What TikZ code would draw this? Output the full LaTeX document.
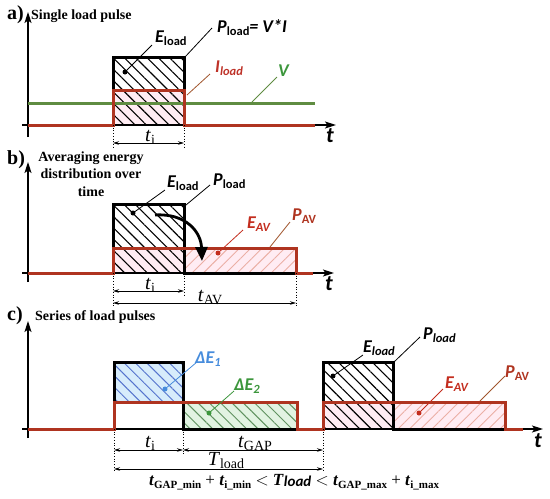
\documentclass[tikz,border=0pt]{standalone}
\usepackage{fontspec}
\setmainfont{Liberation Serif}
\newfontfamily\calfont{Carlito}
\usetikzlibrary{patterns.meta,arrows.meta}
\definecolor{redl}{RGB}{175,52,32}
\definecolor{greenl}{RGB}{95,140,65}
\definecolor{pinkf}{RGB}{255,236,243}
\definecolor{salmon}{RGB}{235,175,165}
\definecolor{bluef}{RGB}{215,236,251}
\definecolor{blueh}{RGB}{85,115,205}
\definecolor{bluet}{RGB}{70,140,220}
\definecolor{greenf}{RGB}{226,243,226}
\definecolor{greenh}{RGB}{95,145,95}
\definecolor{greent}{RGB}{60,150,60}
\definecolor{ilab}{RGB}{190,50,40}
\definecolor{brownl}{RGB}{160,85,45}
\definecolor{eav}{RGB}{195,45,30}
\newcommand\lsub[1]{\raisebox{-0.22em}{\fontsize{12.5}{12.5}\selectfont #1}}
\newcommand\tsub[1]{\raisebox{-0.18em}{\fontsize{14}{14}\selectfont #1}}
\newcommand\fsub[1]{\raisebox{-0.2em}{\fontsize{11}{11}\selectfont\bfseries #1}}
\begin{document}
\begin{tikzpicture}[x=1pt,y=-1pt,
 axisarrow/.style={line width=1.3pt,-{Stealth[length=11pt,width=7pt,inset=2.5pt]}},
 blk/.style={line width=3pt,black,line join=miter},
 redsig/.style={line width=3pt,redl,line join=miter},
 grn/.style={line width=3pt,greenl},
 lead/.style={line width=0.8pt},
 dotl/.style={line width=0.7pt,dotted},
 dimarrow/.style={line width=0.8pt,{Stealth[length=6pt,width=3.5pt]}-{Stealth[length=6pt,width=3.5pt]}},
 lbl/.style={font=\calfont\bfseries\itshape\fontsize{18}{18}\selectfont,inner sep=0pt,anchor=base west},
 tlbl/.style={font=\fontsize{20}{20}\selectfont,inner sep=0pt,anchor=base},
 title/.style={font=\bfseries\fontsize{14}{14}\selectfont,inner sep=0pt},
 plabel/.style={font=\bfseries\fontsize{20}{20}\selectfont,inner sep=0pt,anchor=base west},
 taxis/.style={font=\calfont\bfseries\itshape\fontsize{22}{22}\selectfont,inner sep=0pt,anchor=base west},
 dotm/.style={circle,fill,inner sep=0pt,minimum size=5pt},
 blackhatch/.style={pattern={Lines[angle=-45,distance=8pt,line width=1.1pt]},pattern color=black},
 salmonhatch/.style={pattern={Lines[angle=45,distance=8pt,line width=0.9pt]},pattern color=salmon},
 bluehatch/.style={pattern={Lines[angle=-45,distance=8pt,line width=1pt]},pattern color=blueh},
 greenhatch/.style={pattern={Lines[angle=-45,distance=8pt,line width=1pt]},pattern color=greenh},
]
\useasboundingbox (0,0) rectangle (550,499);

%================ panel a =================
\node[plabel] (pa) at (7,19) {a)};
\node[title,anchor=base west] (ta) at (31,19) {Single load pulse};
\fill[pinkf] (113,90) rectangle (184,125);
\path[blackhatch] (113,57) rectangle (184,125);
\coordinate (ay0) at (28,137); \coordinate (ay1) at (28,12);
\coordinate (ax0) at (22,125); \coordinate (ax1) at (336,125);
\draw[axisarrow] (ay0) -- (ay1);
\draw[axisarrow] (ax0) -- (ax1);
\node[taxis] (tta) at (326,142) {t};
\draw[grn] (28,103) -- (315,103);
\draw[blk] (113,125) -- (113,57) -- (184,57) -- (184,125);
\draw[redsig] (28,125) -- (113,125) -- (113,90) -- (184,90) -- (184,125) -- (315,125);
% dimension
\coordinate (a1t) at (113,125); \coordinate (a1b) at (113,148);
\coordinate (a2t) at (184,125); \coordinate (a2b) at (184,148);
\draw[dotl] (a1t) -- (a1b); \draw[dotl] (a2t) -- (a2b);
\coordinate (ad1) at (113,143); \coordinate (ad2) at (184,143);
\draw[dimarrow] (ad1) -- (ad2);
\node[tlbl] (tia) at (150,141) {\textit{t}\tsub{i}};
% labels
\node[lbl] (Ea) at (155,42) {E\lsub{\upshape load}};
\node[dotm] (Ead) at (125,72) {};
\coordinate (Eae) at (152,45);
\draw[lead] (Ead.center) -- (Eae);
\node[lbl] (Pa) at (217,32) {P\lsub{\upshape load}= V*I};
\coordinate (Pas) at (185,57); \coordinate (Pae) at (212,28);
\draw[lead] (Pas) -- (Pae);
\node[lbl,text=ilab] (Ia) at (215,72) {I\lsub{load}};
\coordinate (Ias) at (187,95); \coordinate (Iae) at (210,74);
\draw[lead,brownl] (Ias) -- (Iae);
\node[lbl,text=greent] (Va) at (278,76) {V};
\coordinate (Vas) at (252,102); \coordinate (Vae) at (277,77);
\draw[lead,greenl] (Vas) -- (Vae);

%================ panel b =================
\node[plabel] (pb) at (7,164) {b)};
\node[title,anchor=base] (tb1) at (91,161) {Averaging energy};
\node[title,anchor=base] (tb2) at (91,178.5) {distribution over};
\node[title,anchor=base] (tb3) at (91,196) {time};
\fill[pinkf] (113,248) rectangle (296,273);
\path[blackhatch] (113,204) rectangle (184,273);
\path[salmonhatch] (184,248) rectangle (296,273);
\coordinate (by0) at (28,282); \coordinate (by1) at (28,162);
\coordinate (bx0) at (22,273); \coordinate (bx1) at (334,273);
\draw[axisarrow] (by0) -- (by1);
\draw[axisarrow] (bx0) -- (bx1);
\node[taxis] (ttb) at (325,290) {t};
\draw[blk] (113,273) -- (113,204) -- (184,204) -- (184,273) -- (296,273);
\draw[redsig] (28,273) -- (113,273) -- (113,248) -- (296,248) -- (296,273) -- (313,273);
% curved arrow
\coordinate (cas) at (155,215); \coordinate (cae) at (202,261);
\draw[line width=2.8pt,-{Triangle[length=14pt,width=12pt]}] (cas) .. controls (186,213) and (201,232) .. (cae);
% dimensions
\coordinate (b1t) at (113,273); \coordinate (b1b) at (113,306);
\coordinate (b2t) at (184,273); \coordinate (b2b) at (184,295);
\coordinate (b3t) at (296,273); \coordinate (b3b) at (296,306);
\draw[dotl] (b1t) -- (b1b); \draw[dotl] (b2t) -- (b2b); \draw[dotl] (b3t) -- (b3b);
\coordinate (bd1) at (113,291); \coordinate (bd2) at (184,291);
\coordinate (bd3) at (113,303); \coordinate (bd4) at (296,303);
\draw[dimarrow] (bd1) -- (bd2);
\draw[dimarrow] (bd3) -- (bd4);
\node[tlbl] (tib) at (150,289) {\textit{t}\tsub{i}};
\node[tlbl] (tav) at (210,301) {\textit{t}\tsub{AV}};
% labels
\node[lbl] (Eb) at (167,187) {E\lsub{\upshape load}};
\node[dotm] (Ebd) at (133,213) {};
\coordinate (Ebe) at (165,190);
\draw[lead] (Ebd.center) -- (Ebe);
\node[lbl] (Pb) at (213,185) {P\lsub{\upshape load}};
\coordinate (Pbs) at (186,205); \coordinate (Pbe) at (210,185);
\draw[lead] (Pbs) -- (Pbe);
\node[lbl,text=eav] (EAb) at (247,228) {E\lsub{AV}};
\node[dotm,fill=eav] (EAbd) at (218,253) {};
\coordinate (EAbe) at (243,230);
\draw[lead,eav] (EAbd.center) -- (EAbe);
\node[lbl,text=redl] (PAb) at (292,220) {P\lsub{\upshape AV}};
\coordinate (PAbs) at (270,247); \coordinate (PAbe) at (290,222);
\draw[lead,brownl] (PAbs) -- (PAbe);

%================ panel c =================
\node[plabel] (pc) at (7,320) {c)};
\node[title,anchor=base west] (tc) at (35,320) {Series of load pulses};
\fill[bluef] (114,362) rectangle (183,402);
\path[bluehatch] (114,362) rectangle (183,402);
\fill[greenf] (183,402) rectangle (297,429);
\path[greenhatch] (183,402) rectangle (297,429);
\fill[pinkf] (323,402) rectangle (505,429);
\path[blackhatch] (323,362) rectangle (393,429);
\path[salmonhatch] (393,402) rectangle (505,429);
\coordinate (cy0) at (28,438); \coordinate (cy1) at (28,321);
\coordinate (cx0) at (22,429); \coordinate (cx1) at (543,429);
\draw[axisarrow] (cy0) -- (cy1);
\draw[axisarrow] (cx0) -- (cx1);
\node[taxis] (ttc) at (534,447) {t};
\draw[blk] (114,429) -- (114,362) -- (183,362) -- (183,429) -- (323,429) -- (323,362) -- (393,362) -- (393,429) -- (505,429);
\draw[redsig] (28,429) -- (114,429) -- (114,402) -- (297,402) -- (297,429) -- (323,429) -- (323,402) -- (505,402) -- (505,429) -- (523,429);
% dimensions
\coordinate (c1t) at (114,429); \coordinate (c1b) at (114,472);
\coordinate (c2t) at (183,429); \coordinate (c2b) at (183,455);
\coordinate (c3t) at (323,429); \coordinate (c3b) at (323,472);
\draw[dotl] (c1t) -- (c1b); \draw[dotl] (c2t) -- (c2b); \draw[dotl] (c3t) -- (c3b);
\coordinate (cd1) at (114,450); \coordinate (cd2) at (183,450); \coordinate (cd3) at (323,450);
\coordinate (cd4) at (114,469); \coordinate (cd5) at (323,469);
\draw[dimarrow] (cd1) -- (cd2);
\draw[dimarrow] (cd2) -- (cd3);
\draw[dimarrow] (cd4) -- (cd5);
\node[tlbl] (tic) at (150,447) {\textit{t}\tsub{i}};
\node[tlbl] (tgap) at (255,447) {\textit{t}\tsub{GAP}};
\node[tlbl] (Tld) at (226,465) {\textit{T}\tsub{load}};
\node[font=\fontsize{17}{17}\selectfont,inner sep=0pt,anchor=base] (form) at (294,485)
 {\textbf{\textit{t}}\fsub{GAP\_min} + \textbf{\textit{t}}\fsub{i\_min} $<$ \textbf{\textit{T}}\raisebox{-0.1em}{\calfont\bfseries\itshape\fontsize{15}{15}\selectfont load} $<$ \textbf{\textit{t}}\fsub{GAP\_max} + \textbf{\textit{t}}\fsub{i\_max}};
% labels
\node[lbl,text=bluet] (D1) at (195,363) {ΔE\lsub{1}};
\node[dotm,fill=bluet] (D1d) at (165,389) {};
\coordinate (D1e) at (197,362);
\draw[lead,bluet] (D1d.center) -- (D1e);
\node[lbl,text=greent] (D2) at (234,390) {ΔE\lsub{2}};
\node[dotm,fill=greent] (D2d) at (209,413) {};
\coordinate (D2e) at (234,391);
\draw[lead,greent] (D2d.center) -- (D2e);
\node[lbl] (Ec) at (363,352) {E\lsub{load}};
\node[dotm] (Ecd) at (333,376) {};
\coordinate (Ece) at (363,355);
\draw[lead] (Ecd.center) -- (Ece);
\node[lbl] (Pc) at (423,339) {P\lsub{load}};
\coordinate (Pcs) at (394,362); \coordinate (Pce) at (420,337);
\draw[lead] (Pcs) -- (Pce);
\node[lbl,text=eav] (EAc) at (445,388) {E\lsub{AV}};
\node[dotm,fill=eav] (EAcd) at (419,413) {};
\coordinate (EAce) at (443,389);
\draw[lead,eav] (EAcd.center) -- (EAce);
\node[lbl,text=redl] (PAc) at (505,377) {P\lsub{\upshape AV}};
\coordinate (PAcs) at (480,401); \coordinate (PAce) at (505,376);
\draw[lead,brownl] (PAcs) -- (PAce);
\end{tikzpicture}
\end{document}
